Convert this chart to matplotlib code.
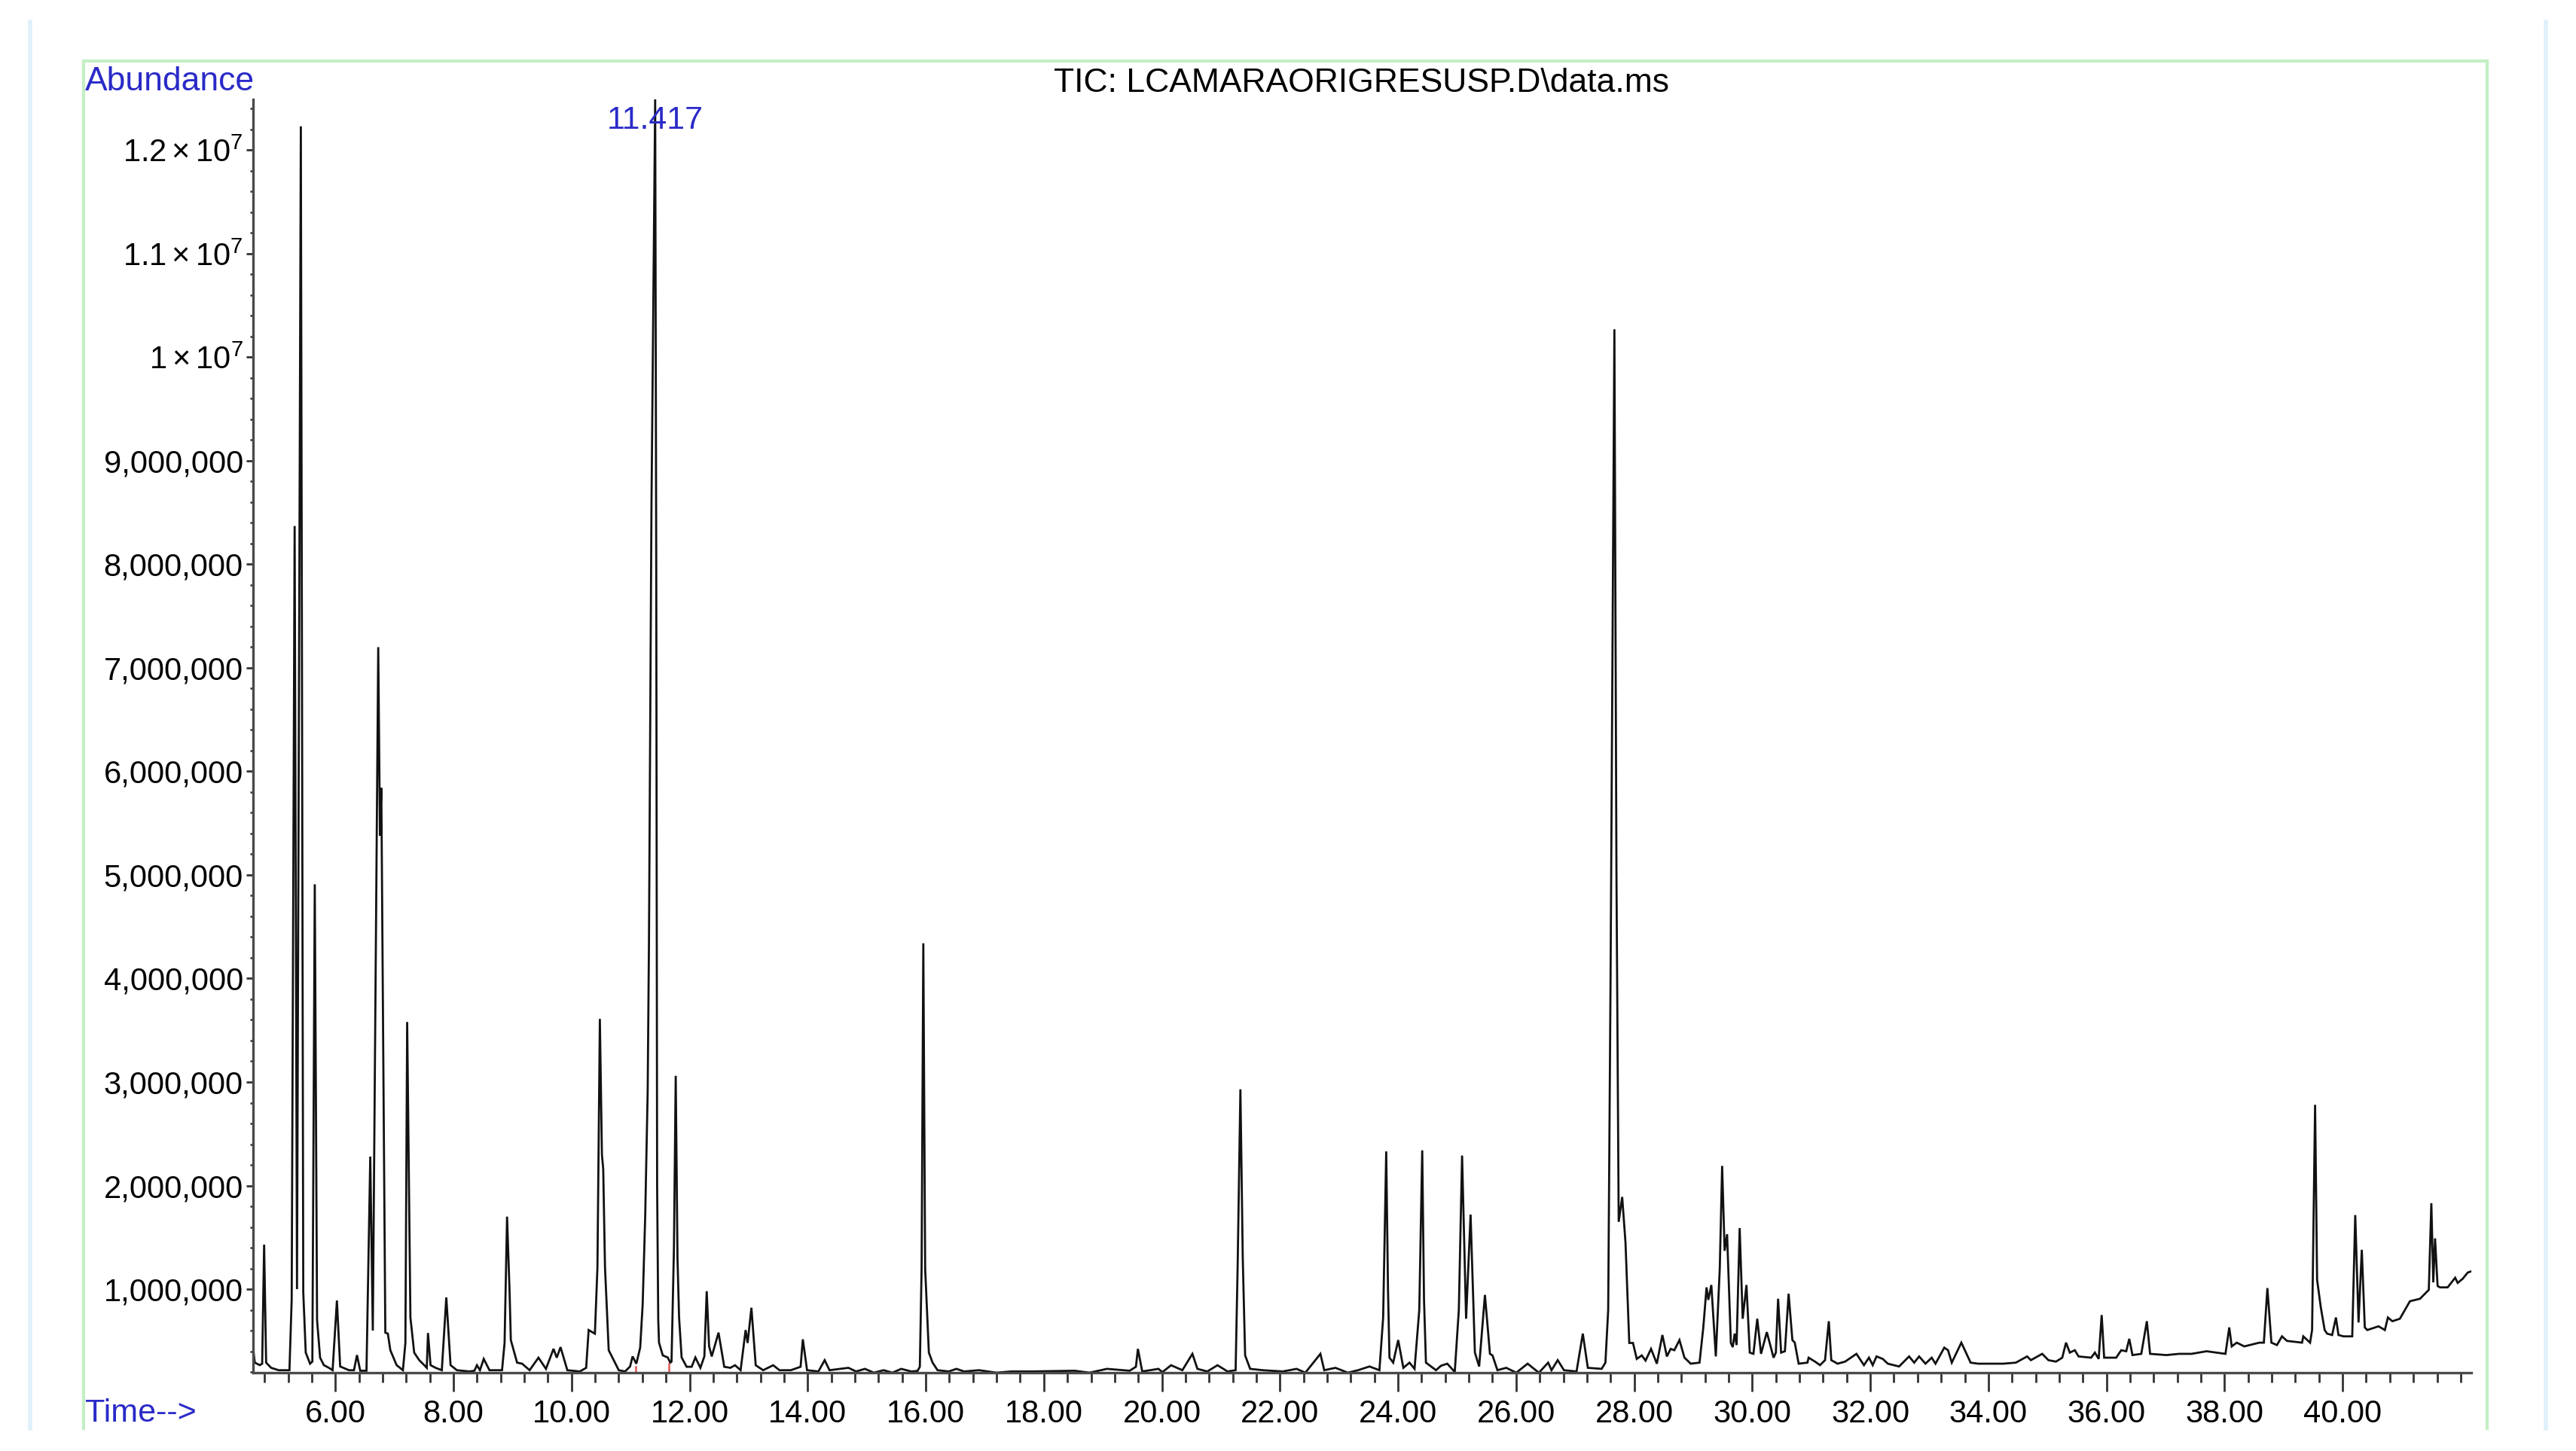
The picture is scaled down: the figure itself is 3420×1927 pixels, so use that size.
"""TIC chromatogram redrawn with matplotlib"""

import numpy as np
import matplotlib.pyplot as plt
from matplotlib.ticker import FixedLocator, FuncFormatter
from matplotlib.lines import Line2D

plt.rcParams['font.family'] = ['Liberation Sans', 'DejaVu Sans']
plt.rcParams['mathtext.fontset'] = 'custom'
plt.rcParams['mathtext.rm'] = 'Liberation Sans'
plt.rcParams['mathtext.it'] = 'Liberation Sans'

# Trace vertices: retention time (min), abundance (millions)
rt_min = [
    4.61, 4.635, 4.72, 4.76, 4.793, 4.827, 4.912, 5.04, 5.222, 5.26,
    5.31, 5.35, 5.415, 5.456, 5.498, 5.571, 5.61, 5.651, 5.69, 5.741,
    5.805, 5.89, 5.953, 6.026, 6.081, 6.23, 6.315, 6.366, 6.421, 6.527,
    6.591, 6.634, 6.726, 6.755, 6.778, 6.846, 6.889, 6.931, 7.037, 7.144,
    7.186, 7.216, 7.271, 7.335, 7.42, 7.505, 7.548, 7.569, 7.612, 7.697,
    7.803, 7.879, 7.951, 8.058, 8.27, 8.355, 8.398, 8.449, 8.513, 8.61,
    8.823, 8.866, 8.908, 8.951, 8.972, 9.078, 9.163, 9.29, 9.44, 9.567,
    9.695, 9.75, 9.814, 9.929, 10.141, 10.248, 10.29, 10.396, 10.439, 10.48,
    10.515, 10.537, 10.567, 10.63, 10.715, 10.80, 10.907, 10.992, 11.034, 11.098,
    11.163, 11.205, 11.248, 11.29, 11.312, 11.354, 11.417, 11.435, 11.45, 11.469,
    11.482, 11.546, 11.63, 11.673, 11.694, 11.735, 11.765, 11.795, 11.822, 11.865,
    11.95, 12.035, 12.098, 12.183, 12.25, 12.29, 12.33, 12.375, 12.417, 12.49,
    12.587, 12.69, 12.77, 12.864, 12.949, 12.983, 13.047, 13.12, 13.246, 13.416,
    13.523, 13.714, 13.88, 13.918, 13.99, 14.182, 14.288, 14.37, 14.69, 14.82,
    14.97, 15.12, 15.287, 15.436, 15.585, 15.755, 15.861, 15.90, 15.93, 15.959,
    15.99, 16.053, 16.116, 16.2, 16.39, 16.52, 16.65, 16.903, 17.2, 17.45,
    17.795, 18.52, 18.774, 19.07, 19.454, 19.56, 19.594, 19.667, 19.943, 20.007,
    20.156, 20.347, 20.517, 20.602, 20.77, 20.942, 21.112, 21.249, 21.283, 21.33,
    21.37, 21.41, 21.495, 21.71, 22.048, 22.282, 22.43, 22.685, 22.75, 22.94,
    23.15, 23.323, 23.515, 23.685, 23.748, 23.80, 23.83, 23.855, 23.918, 24.003,
    24.09, 24.195, 24.28, 24.36, 24.41, 24.44, 24.473, 24.643, 24.728, 24.834,
    24.961, 25.03, 25.085, 25.153, 25.229, 25.302, 25.374, 25.472, 25.557, 25.6,
    25.684, 25.833, 26.003, 26.195, 26.386, 26.543, 26.6, 26.705, 26.811, 27.024,
    27.13, 27.215, 27.449, 27.513, 27.56, 27.60, 27.665, 27.70, 27.738, 27.797,
    27.853, 27.917, 27.98, 28.044, 28.129, 28.193, 28.286, 28.384, 28.478, 28.554,
    28.618, 28.68, 28.767, 28.852, 28.958, 29.107, 29.171, 29.226, 29.256, 29.307,
    29.383, 29.45, 29.49, 29.532, 29.574, 29.638, 29.67, 29.702, 29.735, 29.787,
    29.838, 29.902, 29.958, 30.02, 30.085, 30.149, 30.247, 30.361, 30.40, 30.438,
    30.489, 30.553, 30.616, 30.68, 30.72, 30.786, 30.935, 30.955, 31.063, 31.148,
    31.233, 31.297, 31.339, 31.446, 31.573, 31.765, 31.892, 31.977, 32.041, 32.105,
    32.211, 32.296, 32.487, 32.657, 32.743, 32.827, 32.934, 33.04, 33.104, 33.253,
    33.316, 33.38, 33.542, 33.699, 33.827, 34.039, 34.252, 34.465, 34.656, 34.72,
    34.911, 35.017, 35.145, 35.251, 35.315, 35.379, 35.464, 35.527, 35.74, 35.804,
    35.868, 35.919, 35.961, 36.165, 36.25, 36.335, 36.386, 36.441, 36.59, 36.684,
    36.739, 37.016, 37.228, 37.44, 37.696, 38.016, 38.08, 38.122, 38.207, 38.335,
    38.59, 38.666, 38.726, 38.794, 38.888, 38.973, 39.058, 39.313, 39.334, 39.449,
    39.483, 39.534, 39.568, 39.631, 39.696, 39.738, 39.823, 39.887, 39.93, 40.015,
    40.163, 40.214, 40.27, 40.325, 40.376, 40.418, 40.609, 40.716, 40.767, 40.843,
    40.97, 41.056, 41.14, 41.311, 41.418, 41.46, 41.503, 41.536, 41.566, 41.609,
    41.651, 41.779, 41.907, 41.949, 42.034, 42.119, 42.17,
]
abund_m = [
    0.41, 0.29, 0.266, 0.28, 1.43, 0.29, 0.24, 0.217, 0.217, 0.9,
    8.37, 1.0, 12.23, 0.97, 0.387, 0.28, 0.3, 4.91, 0.7, 0.338,
    0.266, 0.24, 0.217, 0.89, 0.253, 0.217, 0.217, 0.363, 0.212, 0.212,
    2.28, 0.60, 7.20, 5.38, 5.84, 0.58, 0.57, 0.41, 0.266, 0.217,
    0.48, 3.58, 0.726, 0.387, 0.314, 0.266, 0.24, 0.576, 0.266, 0.24,
    0.217, 0.92, 0.266, 0.217, 0.205, 0.212, 0.265, 0.217, 0.326, 0.217,
    0.217, 0.48, 1.70, 0.97, 0.508, 0.29, 0.28, 0.217, 0.338, 0.23,
    0.423, 0.338, 0.44, 0.217, 0.205, 0.24, 0.605, 0.57, 1.21, 3.61,
    2.3, 2.16, 1.21, 0.41, 0.314, 0.217, 0.205, 0.253, 0.35, 0.28,
    0.435, 0.85, 1.70, 2.91, 4.37, 8.55, 12.49, 8.0, 2.0, 0.70,
    0.483, 0.36, 0.34, 0.29, 0.30, 1.4, 3.06, 1.3, 0.726, 0.34,
    0.25, 0.25, 0.34, 0.24, 0.35, 0.98, 0.45, 0.35, 0.435, 0.58,
    0.25, 0.24, 0.265, 0.217, 0.605, 0.48, 0.82, 0.265, 0.217, 0.265,
    0.217, 0.217, 0.25, 0.515, 0.217, 0.205, 0.314, 0.217, 0.24, 0.205,
    0.23, 0.193, 0.217, 0.193, 0.23, 0.205, 0.21, 0.25, 1.2, 4.34,
    1.2, 0.387, 0.29, 0.217, 0.205, 0.23, 0.205, 0.217, 0.193, 0.205,
    0.205, 0.212, 0.193, 0.23, 0.212, 0.25, 0.423, 0.205, 0.23, 0.198,
    0.265, 0.217, 0.375, 0.23, 0.205, 0.265, 0.205, 0.217, 1.21, 2.93,
    1.3, 0.36, 0.23, 0.217, 0.205, 0.23, 0.193, 0.375, 0.217, 0.24,
    0.193, 0.217, 0.253, 0.217, 0.726, 2.33, 1.0, 0.338, 0.29, 0.508,
    0.24, 0.29, 0.23, 0.8, 2.34, 0.9, 0.29, 0.217, 0.26, 0.28,
    0.2, 0.8, 2.29, 0.714, 1.72, 0.387, 0.253, 0.944, 0.375, 0.36,
    0.217, 0.24, 0.193, 0.28, 0.193, 0.29, 0.217, 0.314, 0.217, 0.205,
    0.57, 0.24, 0.23, 0.29, 0.8, 4.0, 10.27, 5.0, 1.65, 1.89,
    1.45, 0.48, 0.48, 0.326, 0.36, 0.31, 0.423, 0.28, 0.557, 0.35,
    0.423, 0.41, 0.508, 0.338, 0.28, 0.29, 0.63, 1.017, 0.896, 1.04,
    0.35, 1.2, 2.19, 1.37, 1.53, 0.48, 0.44, 0.57, 0.46, 1.59,
    0.714, 1.04, 0.387, 0.375, 0.714, 0.375, 0.585, 0.338, 0.387, 0.907,
    0.387, 0.40, 0.956, 0.508, 0.484, 0.28, 0.29, 0.338, 0.30, 0.266,
    0.314, 0.69, 0.314, 0.28, 0.30, 0.375, 0.266, 0.338, 0.266, 0.35,
    0.326, 0.28, 0.253, 0.35, 0.29, 0.35, 0.28, 0.338, 0.28, 0.435,
    0.41, 0.29, 0.483, 0.29, 0.28, 0.28, 0.28, 0.29, 0.35, 0.314,
    0.375, 0.314, 0.30, 0.338, 0.483, 0.387, 0.41, 0.35, 0.338, 0.387,
    0.326, 0.75, 0.338, 0.338, 0.41, 0.40, 0.52, 0.363, 0.375, 0.69,
    0.375, 0.363, 0.375, 0.375, 0.40, 0.375, 0.63, 0.447, 0.483, 0.447,
    0.483, 0.483, 1.01, 0.483, 0.46, 0.544, 0.50, 0.483, 0.544, 0.483,
    0.605, 2.78, 1.09, 0.823, 0.605, 0.57, 0.557, 0.726, 0.557, 0.544,
    0.544, 1.715, 0.678, 1.38, 0.63, 0.605, 0.641, 0.605, 0.726, 0.69,
    0.714, 0.80, 0.883, 0.907, 0.968, 0.993, 1.83, 1.065, 1.49, 1.03,
    1.017, 1.017, 1.11, 1.06, 1.10, 1.16, 1.17,
]

title = 'TIC: LCAMARAORIGRESUSP.D\\data.ms'
peak_label_rt = 11.417
integration_start, integration_end = 11.09, 11.65
integration_levels = [0.25, 0.28]   # millions, signal at both ends

x_limits = (4.606, 42.18)
y_limits = (0.193e6, 12.49e6)
blue = '#2a2ac8'


def abundance_label(v, pos):
    """Agilent-style abundance labels: commas below 1e7, scientific above"""
    if v >= 1e7 - 1:
        return r'$%g\times10^{7}$' % round(v / 1e7, 2)
    return f'{int(round(v)):,}'


def main():
    times = np.array(rt_min)
    abundance = np.array(abund_m) * 1e6

    W, H = 3420, 1927
    fig = plt.figure(figsize=(W / 100, H / 100), dpi=100)

    # Axes placed from pixel positions of the spines
    left, right, top, bottom = 336, 3281, 132, 1823
    ax = fig.add_axes([left / W, 1 - bottom / H, (right - left) / W, (bottom - top) / H])
    ax.plot(times, abundance, color='#111111', lw=2.0, solid_joinstyle='miter')

    # Integration baseline under the labelled peak
    ax.plot([integration_start, integration_start, integration_end, integration_end],
            [integration_levels[0] * 1e6, y_limits[0], y_limits[0], integration_levels[1] * 1e6],
            color='#e05555', lw=1.8, clip_on=False)

    ax.set_xlim(*x_limits)
    ax.set_ylim(*y_limits)

    for side in ['top', 'right']:
        ax.spines[side].set_visible(False)
    for side in ['left', 'bottom']:
        ax.spines[side].set_color('#4a4a4a')
        ax.spines[side].set_linewidth(2.4)

    # X ticks: labelled every 2 min, minor every 0.4 min
    ax.xaxis.set_major_locator(FixedLocator(np.arange(6, 41, 2)))
    ax.xaxis.set_minor_locator(FixedLocator(np.round(np.arange(4.8, 42.01, 0.4), 2)))
    ax.xaxis.set_major_formatter(FuncFormatter(lambda v, p: '%.2f' % v))
    ax.tick_params(axis='x', which='major', length=18, width=2.0, color='#333333',
                   labelsize=30, pad=7)
    ax.tick_params(axis='x', which='minor', length=9.5, width=2.0, color='#333333')

    # Y ticks: labelled every 1e6, minor every 2e5
    ax.yaxis.set_major_locator(FixedLocator(np.arange(1, 13) * 1e6))
    ax.yaxis.set_minor_locator(FixedLocator(np.arange(1, 63) * 2e5))
    ax.yaxis.set_major_formatter(FuncFormatter(abundance_label))
    ax.tick_params(axis='y', which='major', length=6.5, width=2.0, color='#333333',
                   labelsize=30, pad=3)
    ax.tick_params(axis='y', which='minor', length=3, width=1.8, color='#333333')

    ax.text(peak_label_rt, 12.21e6, '%.3f' % peak_label_rt, color=blue, fontsize=31,
            ha='center', va='baseline', clip_on=False)

    # Page furniture: labels, title, frame
    fig.text(113 / W, 1 - 120 / H, 'Abundance', color=blue, fontsize=32, va='baseline')
    fig.text(113 / W, 1 - 1888 / H, 'Time-->', color=blue, fontsize=31, va='baseline')
    fig.text(1807 / W, 1 - 122 / H, title, color='black', fontsize=32,
             ha='center', va='baseline')

    green = '#c4efc4'
    fx0, fx1, fy0, fy1 = 111 / W, 3302 / W, 1 - 81 / H, 1 - 1897 / H
    for xs, ys in [([fx0, fx0], [fy1, fy0]), ([fx0, fx1], [fy0, fy0]), ([fx1, fx1], [fy0, fy1])]:
        fig.add_artist(Line2D(xs, ys, color=green, lw=3))
    pale_blue = '#def0fa'
    for bx in [40, 3380]:
        fig.add_artist(Line2D([bx / W, bx / W], [1 - 29 / H, fy1], color=pale_blue, lw=4))

    fig.savefig('out.png', dpi=100, facecolor='white')


if __name__ == '__main__':
    main()
